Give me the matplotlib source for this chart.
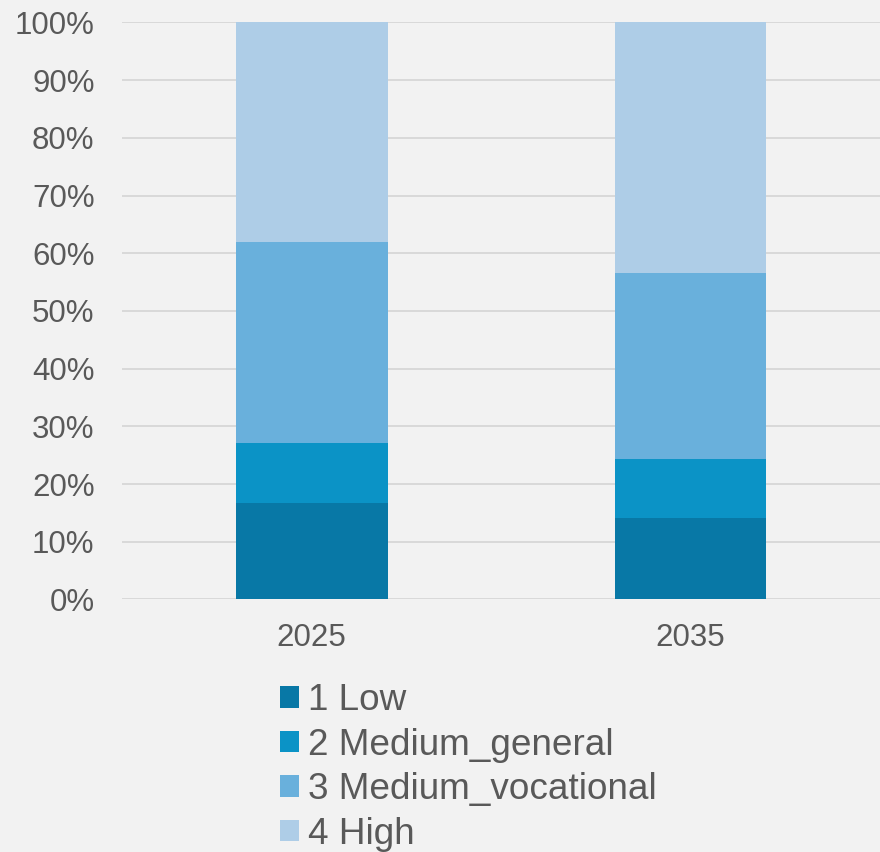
import numpy as np
import matplotlib.pyplot as plt

plt.rcParams['font.family'] = ['Liberation Sans', 'DejaVu Sans']

# Education level shares (%)
years = ['2025', '2035']
labels = ['1 Low', '2 Medium_general', '3 Medium_vocational', '4 High']
low = [16.7, 14.1]
medium_general = [10.5, 10.25]
medium_vocational = [34.8, 32.25]
high = [38.0, 43.4]

colors = ['#0878a6', '#0b93c6', '#69b0dc', '#aecde7']
text_col = '#595959'
bg = '#f2f2f2'

fig = plt.figure(figsize=(8.8, 8.52), dpi=100, facecolor=bg)
ax = fig.add_axes([0.139, 0.2964, 0.861, 0.6772], facecolor=bg)

x = np.arange(len(years))
bottom = np.zeros(len(years))
for vals, lab, c in zip([low, medium_general, medium_vocational, high], labels, colors):
    ax.bar(x, vals, width=0.4, bottom=bottom, color=c, label=lab, zorder=3, linewidth=0)
    bottom += np.array(vals)

ax.set_xlim(-0.5, 1.5)
ax.set_ylim(0, 100)
ax.set_yticks(np.arange(0, 101, 10))
ax.set_yticklabels([f'{v}%' for v in range(0, 101, 10)])
ax.set_xticks(x)
ax.set_xticklabels(years)
ax.yaxis.grid(True, color='#d9d9d9', linewidth=1.4, zorder=0)
ax.tick_params(axis='both', length=0, labelsize=22.5, colors=text_col)
ax.tick_params(axis='y', pad=20)
ax.tick_params(axis='x', pad=17)
for s in ax.spines.values():
    s.set_visible(False)

fig.legend(loc='upper left', bbox_to_anchor=(280 / 880, 1 - 683 / 852), frameon=False,
           fontsize=26.6, labelcolor=text_col, handlelength=0.52, handleheight=0.52,
           handletextpad=0.25, labelspacing=0.26, borderpad=0, borderaxespad=0)

fig.savefig('out.png', dpi=100, facecolor=bg)
